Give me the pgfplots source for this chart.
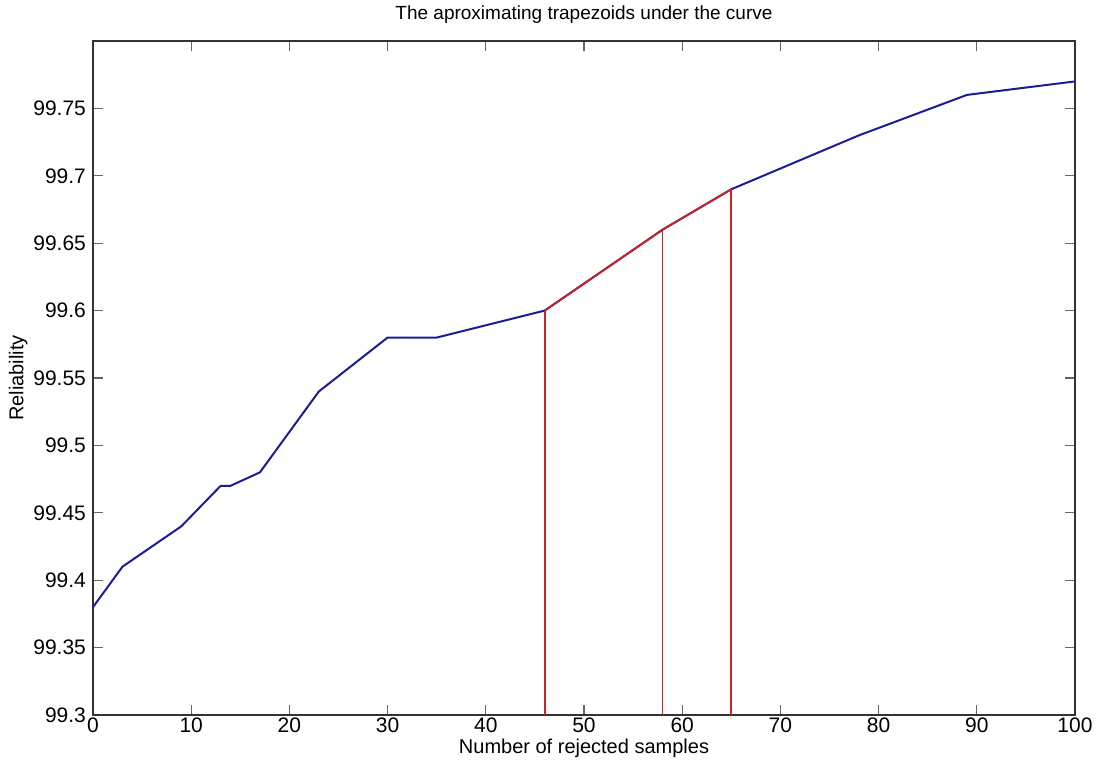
\documentclass[border=0pt]{standalone}
\usepackage{pgfplots}
\pgfplotsset{compat=1.18}
\usepackage{fontspec}
\setmainfont{Liberation Sans}
\definecolor{curveblue}{RGB}{28,28,150}
\definecolor{trapred}{RGB}{205,35,35}
\begin{document}
\begin{tikzpicture}
\begin{axis}[
  scale only axis,
  width=491pt, height=337pt,
  xmin=0, xmax=100, ymin=99.3, ymax=99.8,
  xtick={0,10,...,100},
  ytick={99.3,99.35,...,99.76},
  yticklabels={99.3,99.35,99.4,99.45,99.5,99.55,99.6,99.65,99.7,99.75},
  tick align=inside,
  major tick length=5pt,
  tick style={black!60, line width=0.6pt},
  axis line style={black!80, line width=0.6pt},
  /pgf/number format/assume math mode=true,
  ticklabel style={font=\fontsize{10.5}{12}\selectfont},
  xticklabel style={yshift=2pt},
  title={The aproximating trapezoids under the curve},
  title style={font=\fontsize{9.5}{11}\selectfont, yshift=-1pt},
  xlabel={Number of rejected samples},
  ylabel={Reliability},
  label style={font=\fontsize{10}{12}\selectfont},
  xlabel style={yshift=4pt},
  ylabel style={yshift=-4pt},
]
\addplot[curveblue, line width=1pt] coordinates {
  (0,99.38) (3,99.41) (9,99.44) (13,99.47) (14,99.47) (17,99.48)
  (23,99.54) (30,99.58) (35,99.58) (46,99.60) (58,99.66) (65,99.69)
  (78,99.73) (89,99.76) (100,99.77)
};
\addplot[trapred, line width=0.9pt] coordinates {
  (46,99.60) (58,99.66) (65,99.69)
};
\addplot[trapred, line width=0.9pt] coordinates {(46,99.3) (46,99.60)};
\addplot[trapred, line width=0.9pt] coordinates {(58,99.3) (58,99.66)};
\addplot[trapred, line width=0.9pt] coordinates {(65,99.3) (65,99.69)};
\end{axis}
\pgfresetboundingbox
\path[use as bounding box] (-46.5pt,-27pt) rectangle (503.5pt,357.5pt);
\end{tikzpicture}
\end{document}
